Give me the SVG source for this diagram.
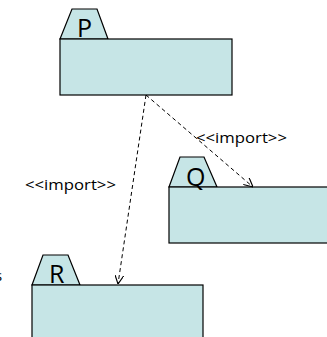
<svg xmlns="http://www.w3.org/2000/svg" width="327" height="337" viewBox="0 0 327 337">
<style>
.pk{fill:#c6e5e6;stroke:#000;stroke-width:1.2}
.nm{font-family:"Open Sans","DejaVu Sans",sans-serif;font-size:25px;fill:#000}
.lb{font-family:"Open Sans","DejaVu Sans",sans-serif;font-size:15px;fill:#000}
.dep{stroke:#000;stroke-width:1;stroke-dasharray:4 3;fill:none}
</style>
<defs>
<marker id="open" viewBox="0 0 10 10" refX="10" refY="5" markerWidth="9" markerHeight="9" markerUnits="userSpaceOnUse" orient="auto">
<path d="M0,0 L10,5 L0,10" fill="none" stroke="#000" stroke-width="1.3"/>
</marker>
</defs>
<rect width="327" height="337" fill="#fff"/>
<g id="P">
<path class="pk" d="M60,39 L72,9 L97,9 L108,39 Z"/>
<rect class="pk" x="60" y="39" width="172" height="56"/>
<text class="nm" x="77" y="37">P</text>
</g>
<g id="Q">
<path class="pk" d="M169,187 L180,157 L204,157 L217,187 Z"/>
<rect class="pk" x="169" y="187" width="165" height="56"/>
<text class="nm" x="186" y="186">Q</text>
</g>
<g id="R">
<path class="pk" d="M32,285 L43,255 L68,255 L80,285 Z"/>
<rect class="pk" x="32" y="285" width="171" height="60"/>
<text class="nm" x="49" y="283">R</text>
</g>
<g id="connectors">
<line class="dep" x1="146" y1="95" x2="118" y2="284" marker-end="url(#open)"/>
<line class="dep" x1="146" y1="95" x2="253" y2="187" marker-end="url(#open)"/>
<text class="lb" x="196" y="143" textLength="91" lengthAdjust="spacingAndGlyphs">&lt;&lt;import&gt;&gt;</text>
<text class="lb" x="25" y="190" textLength="91" lengthAdjust="spacingAndGlyphs">&lt;&lt;import&gt;&gt;</text>
</g>
<text class="lb" x="-5" y="281">s</text>
</svg>
